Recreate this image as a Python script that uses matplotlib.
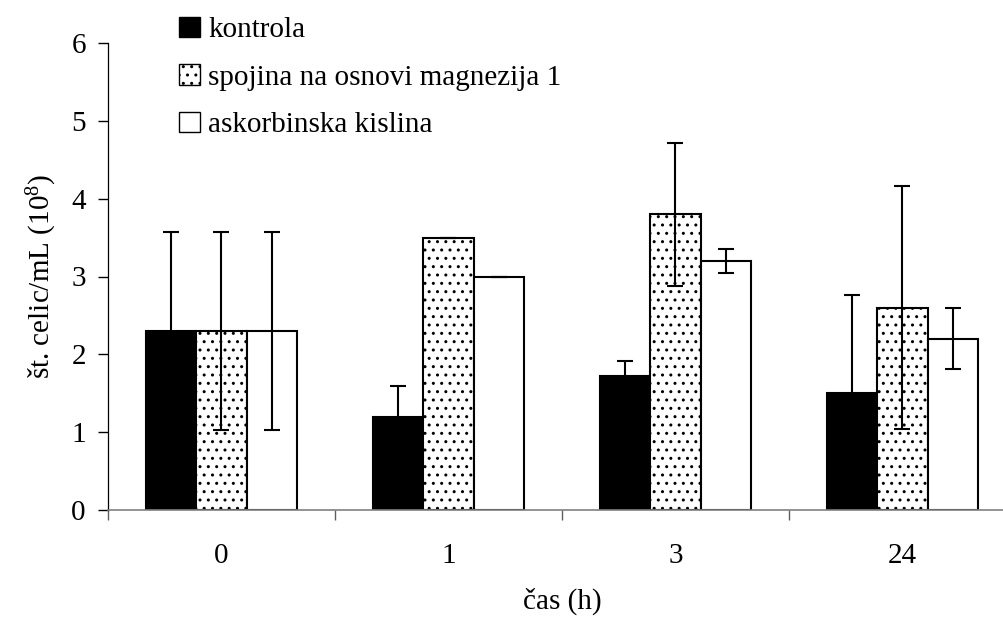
import numpy as np
import matplotlib
matplotlib.use('Agg')
import matplotlib.pyplot as plt

plt.rcParams['font.family'] = ['Liberation Serif', 'DejaVu Serif']
plt.rcParams['mathtext.fontset'] = 'custom'
plt.rcParams['mathtext.rm'] = 'Liberation Serif'
plt.rcParams['mathtext.it'] = 'Liberation Serif'
plt.rcParams['hatch.linewidth'] = 1.0
plt.rcParams['hatch.color'] = '#333333'

# časovne točke (h)
casi = ['0', '1', '3', '24']
serije = ['kontrola', 'spojina na osnovi magnezija 1', 'askorbinska kislina']

kontrola = [2.3, 1.2, 1.72, 1.5]
kontrola_sd = [1.27, 0.39, 0.2, 1.26]
magnezij = [2.3, 3.5, 3.8, 2.6]
magnezij_sd = [1.27, 0.0, 0.92, 1.56]
askorbinska = [2.3, 3.0, 3.2, 2.2]
askorbinska_sd = [1.27, 0.0, 0.15, 0.39]

fs = 21

fig = plt.figure(figsize=(10.04, 6.33), dpi=100)
ax = fig.add_axes([108/1004, 123/633, 908/1004, 467/633])

x = np.arange(len(casi))
w = 0.222
stili = [dict(color='black', edgecolor='black'),
         dict(color='white', edgecolor='black', hatch='..'),
         dict(color='white', edgecolor='black')]
vrednosti = [kontrola, magnezij, askorbinska]
napake = [kontrola_sd, magnezij_sd, askorbinska_sd]

for i in range(3):
    ax.bar(x + (i - 1) * w, vrednosti[i], w, label=serije[i],
           linewidth=1.5, zorder=2, **stili[i])
    ax.errorbar(x + (i - 1) * w, vrednosti[i], yerr=napake[i], fmt='none',
                ecolor='black', elinewidth=1.5, capsize=5.5, capthick=1.5, zorder=3)

ax.set_xlim(-0.5, 3.5)
ax.set_ylim(0, 6)
ax.set_yticks(range(7))
ax.set_xticks(x)
ax.set_xticklabels(casi)
ax.set_xticks(np.arange(-0.5, 4, 1), minor=True)
ax.tick_params(axis='x', which='major', length=0, pad=24, labelsize=fs)
ax.tick_params(axis='x', which='minor', length=7, width=1, color='#606060')
ax.tick_params(axis='y', length=7, width=1, labelsize=fs, pad=9)

for s in ['top', 'right']:
    ax.spines[s].set_visible(False)
ax.spines['bottom'].set_color('#808080')
ax.spines['bottom'].set_linewidth(1.2)
ax.spines['left'].set_linewidth(0.9)

ax.set_xlabel('čas (h)', fontsize=fs, labelpad=13)
ax.set_ylabel('št. celic/mL (10$^{8}$)', fontsize=fs, labelpad=9)

leg = ax.legend(loc='upper left', bbox_to_anchor=(0.056, 1.1), frameon=False,
                fontsize=fs, handlelength=0.7, handleheight=0.7,
                handletextpad=0.3, labelspacing=0.72, borderpad=0.2)
for h in leg.legend_handles:
    h.set_linewidth(1.0)

fig.savefig('out.png', dpi=100)
